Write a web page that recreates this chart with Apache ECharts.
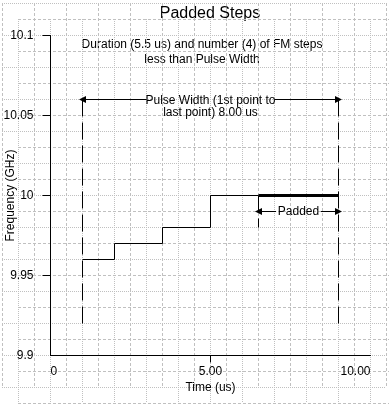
<!DOCTYPE html>
<html><head><meta charset="utf-8">
<script src="https://cdn.jsdelivr.net/npm/echarts@6/dist/echarts.min.js"></script>
<style>html,body{margin:0;padding:0;background:#fff}#c{width:389px;height:405px}</style>
</head><body><div id="c"></div>
<script>
// ---- data ----
const stepTimes = [1, 2, 3.5, 5, 6.5];
const stepFreqs = [9.96, 9.97, 9.98, 10.0, 10.0];
const padTimes = [6.5, 9.0];
const padFreqs = [10.0, 10.0];
const pulseStart = 1, pulseEnd = 9;
const markerLow = 9.92, markerHigh = 10.06;
const pulseTextGap = [3, 7];
const paddedArrowFreq = 9.99;
const paddedTextGap = [7.05, 8.45];
const paddedTickLow = 9.98;
const xTickLabels = ['0', '5.00', '10.00'];
const titleText = 'Padded Steps';
const noteText = 'Duration (5.5 us) and number (4) of FM steps\nless than Pulse Width';
const pulseText = 'Pulse Width (1st point to\nlast point) 8.00 us';
const paddedText = 'Padded';

const FONT = '"Liberation Sans", Arial, sans-serif';
const GRID_C = '#c0c0c0';
const chart = echarts.init(document.getElementById('c'), null, {renderer: 'canvas'});

function bgX(idx, type) {
  return {type: 'value', gridIndex: idx, min: 0, max: 384, interval: 32,
    axisLine: {show: false}, axisTick: {show: false}, axisLabel: {show: false},
    splitLine: {show: true, lineStyle: {color: GRID_C, width: 1, type: type}}};
}
function bgY(idx, type) {
  return Object.assign(bgX(idx, type), {inverse: true});
}
const dashed = [3, 2], dotted = [1, 1];
const markerDash = [17, 6];

const stepData = stepTimes.map((t, i) => [t, stepFreqs[i]]);
const padData = padTimes.map((t, i) => [t, padFreqs[i]]);

const arrowEnd = {symbol: 'triangle', symbolSize: 7};
const noSym = {symbol: 'none'};
const plain = {color: '#000', width: 1, type: 'solid'};
const dashStyle = {color: '#000', width: 1, type: markerDash};

option = {
  animation: false,
  textStyle: {fontFamily: FONT},
  grid: [
    {left: 2, top: 3, width: 384, height: 384, outerBoundsMode: 'none', containLabel: false},
    {left: 18, top: 19, width: 384, height: 384, outerBoundsMode: 'none', containLabel: false},
    {left: 50.5, top: 35.5, width: 320, height: 320, outerBoundsMode: 'none', containLabel: false}
  ],
  xAxis: [
    bgX(0, dashed), bgX(1, dotted),
    {type: 'value', gridIndex: 2, min: 0, max: 10, interval: 5,
      axisLine: {show: true, onZero: false, lineStyle: {color: '#000', width: 1}},
      axisTick: {show: true, length: 7, customValues: [5], lineStyle: {color: '#000'}},
      axisLabel: {color: '#000', fontSize: 12, fontFamily: FONT, margin: 10,
        alignMinLabel: 'left', alignMaxLabel: 'right',
        formatter: v => xTickLabels[Math.round(v / 5)]},
      splitLine: {show: false},
      name: 'Time (us)', nameLocation: 'middle', nameGap: 26, nameMoveOverlap: false,
      nameTextStyle: {color: '#000', fontSize: 12, fontFamily: FONT}}
  ],
  yAxis: [
    bgY(0, dotted), bgY(1, dashed),
    {type: 'value', gridIndex: 2, min: 9.9, max: 10.1, interval: 0.05,
      axisLine: {show: true, onZero: false, lineStyle: {color: '#000', width: 1}},
      axisTick: {show: true, length: 8, customValues: [9.95, 10, 10.05, 10.1], lineStyle: {color: '#000'}},
      axisLabel: {color: '#000', fontSize: 12, fontFamily: FONT, margin: 17},
      splitLine: {show: false},
      name: 'Frequency (GHz)', nameLocation: 'middle', nameGap: 34, nameRotate: 90, nameMoveOverlap: false,
      nameTextStyle: {color: '#000', fontSize: 12, fontFamily: FONT}}
  ],
  graphic: [
    {type: 'text', x: 210, y: 6, silent: true,
      style: {text: titleText, font: '16px ' + FONT, fill: '#000', textAlign: 'center', textVerticalAlign: 'top'}},
    {type: 'text', x: 202, y: 37, silent: true,
      style: {text: noteText, font: '12px ' + FONT, fill: '#000', textAlign: 'center', textVerticalAlign: 'top', lineHeight: 15}}
  ],
  series: [
    {type: 'line', name: 'steps', xAxisIndex: 2, yAxisIndex: 2, data: stepData, step: 'end',
      showSymbol: false, symbol: 'none', silent: true,
      lineStyle: {color: '#000', width: 1},
      markLine: {silent: true, animation: false, label: {show: false}, emphasis: {disabled: true},
        data: [
          [Object.assign({coord: [pulseStart, markerHigh], lineStyle: dashStyle}, noSym), Object.assign({coord: [pulseStart, markerLow]}, noSym)],
          [Object.assign({coord: [pulseEnd, markerHigh], lineStyle: dashStyle}, noSym), Object.assign({coord: [pulseEnd, markerLow]}, noSym)],
          [Object.assign({coord: [pulseTextGap[0], markerHigh], lineStyle: plain}, noSym), Object.assign({coord: [pulseStart, markerHigh]}, arrowEnd)],
          [Object.assign({coord: [pulseTextGap[1], markerHigh], lineStyle: plain}, noSym), Object.assign({coord: [pulseEnd, markerHigh]}, arrowEnd)],
          [Object.assign({coord: [padTimes[0], padFreqs[0]], lineStyle: dashStyle}, noSym), Object.assign({coord: [padTimes[0], paddedTickLow]}, noSym)],
          [Object.assign({coord: [paddedTextGap[0], paddedArrowFreq], lineStyle: plain}, noSym), Object.assign({coord: [padTimes[0], paddedArrowFreq]}, arrowEnd)],
          [Object.assign({coord: [paddedTextGap[1], paddedArrowFreq], lineStyle: plain}, noSym), Object.assign({coord: [padTimes[1], paddedArrowFreq]}, arrowEnd)]
        ]},
      markPoint: {silent: true, animation: false, symbol: 'circle', symbolSize: 1,
        itemStyle: {color: 'rgba(0,0,0,0)'},
        label: {show: true, position: 'inside', color: '#000', fontSize: 12, fontFamily: FONT, lineHeight: 12},
        data: [
          {coord: [(pulseStart + pulseEnd) / 2, markerHigh], label: {formatter: pulseText, offset: [0, 7]}},
          {coord: [(padTimes[0] + padTimes[1]) / 2, paddedArrowFreq], label: {formatter: paddedText, offset: [0, 0]}}
        ]}
    },
    {type: 'line', name: 'padded', xAxisIndex: 2, yAxisIndex: 2, data: padData,
      showSymbol: false, symbol: 'none', silent: true,
      lineStyle: {color: '#000', width: 3}}
  ]
};
chart.setOption(option);
</script></body></html>
